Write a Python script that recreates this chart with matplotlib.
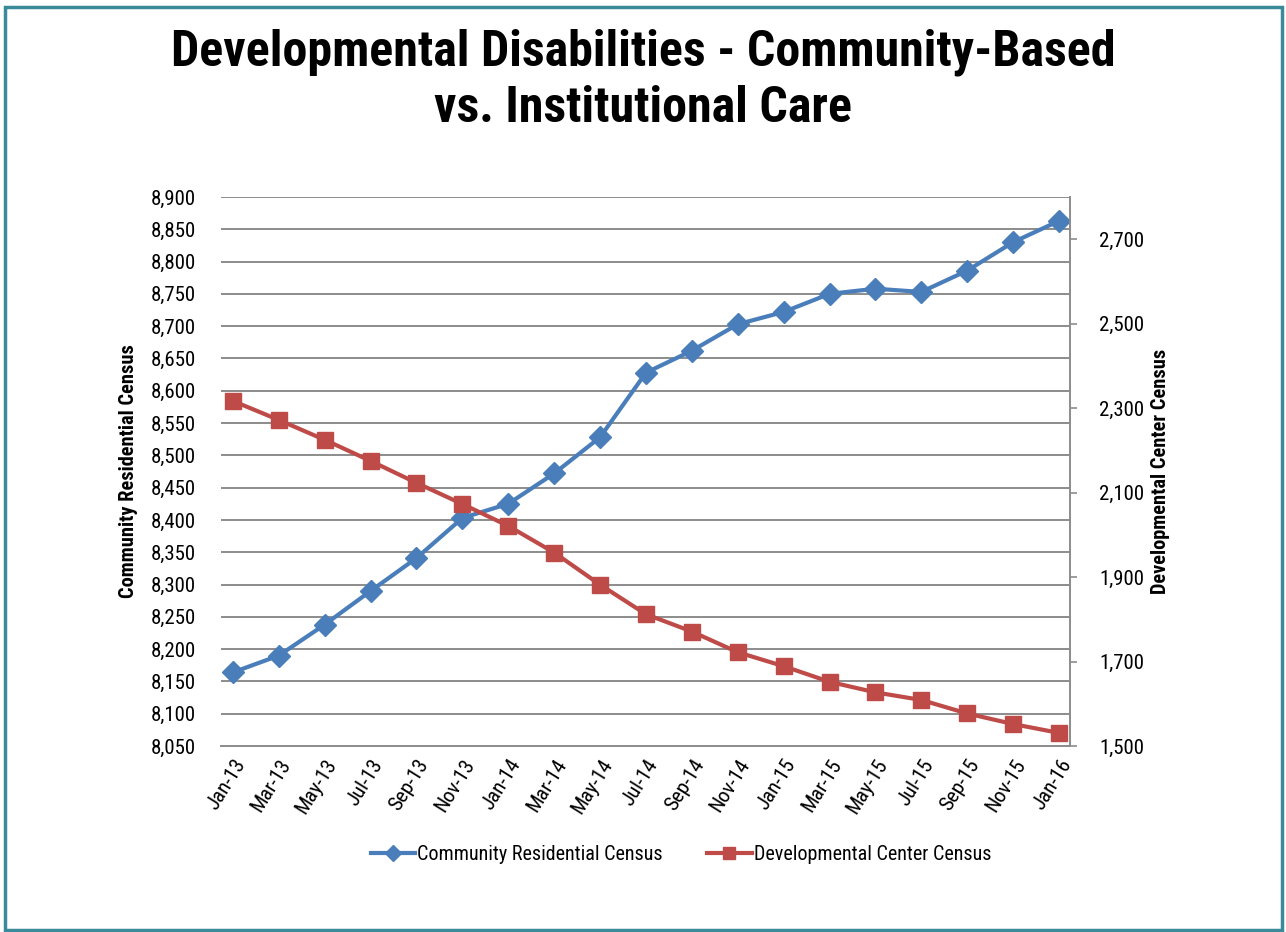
import matplotlib
matplotlib.use("Agg")
import matplotlib.pyplot as plt
from matplotlib.ticker import FuncFormatter, MultipleLocator
from matplotlib.patches import Rectangle
from matplotlib import font_manager

months = ["Jan-13", "Mar-13", "May-13", "Jul-13", "Sep-13", "Nov-13", "Jan-14",
          "Mar-14", "May-14", "Jul-14", "Sep-14", "Nov-14", "Jan-15", "Mar-15",
          "May-15", "Jul-15", "Sep-15", "Nov-15", "Jan-16"]
community = [8164, 8190, 8238, 8290, 8341, 8403, 8425, 8472, 8528, 8628,
             8662, 8703, 8722, 8750, 8758, 8753, 8786, 8830, 8863]
center = [2317, 2272, 2225, 2175, 2123, 2073, 2021, 1958, 1882, 1812,
          1771, 1722, 1689, 1652, 1627, 1609, 1577, 1552, 1531]

names = {f.name for f in font_manager.fontManager.ttflist}
narrow = None
for cand in ["Liberation Sans Narrow", "Arial Narrow", "Roboto Condensed",
             "DejaVu Sans Condensed", "Open Sans Condensed", "Noto Sans Condensed"]:
    if cand in names:
        narrow = cand
        break
if narrow is None:
    for n in sorted(names):
        if ("Narrow" in n or "Condensed" in n) and "Mono" not in n and "Serif" not in n:
            narrow = n
            break
base = narrow if narrow else "Liberation Sans"
plt.rcParams['font.family'] = [base, 'DejaVu Sans']
fs = 15 if narrow else 13

BLUE = "#4A7EBB"
RED = "#BE4B48"
GRID = "#8C8C8C"

fig = plt.figure(figsize=(12.86, 9.32), dpi=100)
ax = fig.add_axes([221/1286, 1-746/932, (1070-221)/1286, (746-197)/932])
ax2 = ax.twinx()

x = list(range(len(months)))
ax.plot(x, community, color=BLUE, lw=3.0, marker="D", ms=11, mec=BLUE,
        label="Community Residential Census", zorder=3)
ax2.plot(x, center, color=RED, lw=3.0, marker="s", ms=11.5, mec=RED,
         label="Developmental Center Census", zorder=3)

ax.set_ylim(8050, 8900)
ax.yaxis.set_major_locator(MultipleLocator(50))
ax2.set_ylim(1500, 2800)
ax2.set_yticks([1500, 1700, 1900, 2100, 2300, 2500, 2700])
fmt = FuncFormatter(lambda v, p: f"{int(v):,}")
ax.yaxis.set_major_formatter(fmt)
ax2.yaxis.set_major_formatter(fmt)

ax.set_xlim(-0.26, 18.24)
ax.set_xticks(x)
ax.set_xticklabels(months, rotation=58, ha="right", rotation_mode="anchor")

ax.grid(axis="y", color=GRID, lw=1.4)
ax.set_axisbelow(True)
for s in ["top", "left", "right"]:
    ax.spines[s].set_visible(False)
    ax2.spines[s].set_visible(False)
ax.spines["bottom"].set_color(GRID)
ax.spines["bottom"].set_linewidth(1.4)
ax2.spines["bottom"].set_visible(False)
ax2.spines["right"].set_visible(True)
ax2.spines["right"].set_color(GRID)
ax2.spines["right"].set_linewidth(1.4)

ax.tick_params(axis="y", length=0, labelsize=fs, pad=18)
ax.tick_params(axis="x", length=0, labelsize=fs, pad=7)
ax2.tick_params(axis="y", length=5, color=GRID, width=1.2, labelsize=fs, pad=16)

ax.set_ylabel("Community Residential Census", fontsize=fs - 0.3, fontweight="bold", labelpad=9)
ax2.set_ylabel("Developmental Center Census", fontsize=fs - 0.3, fontweight="bold", labelpad=5)

t1 = fig.text(0.5, 1-52/932, "Developmental Disabilities - Community-Based",
              ha="center", va="center", fontsize=36, fontweight="bold")
t2 = fig.text(0.5, 1-108/932, "vs. Institutional Care",
              ha="center", va="center", fontsize=36, fontweight="bold")
# fit the title to the reference width (~945 px)
r = fig.canvas.get_renderer()
w = t1.get_window_extent(r).width
size = min(38, 36 * 945 / w)
t1.set_fontsize(size)
t2.set_fontsize(size)

h1, l1 = ax.get_legend_handles_labels()
h2, l2 = ax2.get_legend_handles_labels()
fig.legend(h1 + h2, l1 + l2, loc="center", bbox_to_anchor=(681/1286, 1-855/932),
           ncol=2, frameon=False, fontsize=fs - 0.5, handlelength=2.2,
           handletextpad=0.12, columnspacing=2.2, markerscale=0.75)

fig.patches.append(Rectangle((5/1286, 2/932), 1277/1286, 923/932, transform=fig.transFigure,
                             fill=False, edgecolor="#3A8A9A", lw=2.5))

fig.savefig("out.png", dpi=100)
